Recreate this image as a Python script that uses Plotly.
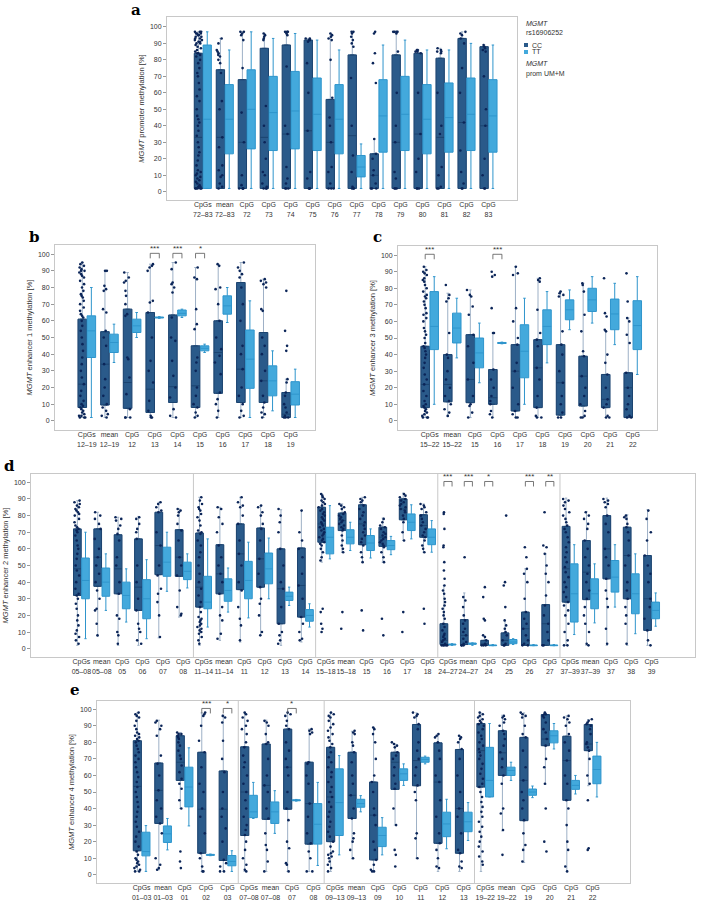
import plotly.graph_objects as go

W, H = 701, 906

CC_FILL = "#2a5a8a"
CC_LINE = "#1c4470"
CC_WHISK = "#9db0c6"
TT_FILL = "#43a9dc"
TT_LINE = "#2f95cc"
DOT = "#0b2558"
FONT = "Liberation Sans"
FS = 7

# ---------------- panel a : promoter CpGs 72-83 ----------------
a_cats = ["CpGs<br>72–83", "mean<br>72–83", "CpG<br>72", "CpG<br>73", "CpG<br>74", "CpG<br>75",
          "CpG<br>76", "CpG<br>77", "CpG<br>78", "CpG<br>79", "CpG<br>80", "CpG<br>81",
          "CpG<br>82", "CpG<br>83"]
a_cc_lo = [2, 2, 2, 2, 2, 2, 2, 2, 2, 2, 2, 2, 2, 2]
a_cc_q1 = [2, 2, 2, 2, 2, 2, 2, 2, 2, 2, 2, 2, 2, 2]
a_cc_med = [33, 33, 30, 33, 35, 37, 30, 34, 10, 30, 35, 33, 42, 40]
a_cc_q3 = [84, 74, 68, 87, 89, 92, 56, 83, 23, 83, 84, 81, 93, 88]
a_cc_hi = [97, 93, 97, 96, 97, 93, 96, 97, 32, 97, 86, 87, 97, 89]
a_tt_lo = [2, 2, 2, 2, 2, 2, 2, 2, 2, 2, 2, 2, 2, 2]
a_tt_q1 = [2, 23, 26, 25, 26, 25, 23, 9, 24, 25, 23, 24, 25, 24]
a_tt_med = [44, 44, 50, 48, 49, 47, 44, 15, 46, 47, 44, 45, 47, 46]
a_tt_q3 = [89, 65, 74, 70, 73, 69, 65, 22, 68, 70, 65, 66, 69, 68]
a_tt_hi = [97, 86, 97, 93, 96, 92, 86, 29, 89, 92, 86, 86, 90, 89]
a_cc_pts = [
    [97, 97, 97, 96, 96, 96, 95, 95, 94, 94, 93, 93, 92, 92, 91, 91, 90, 90, 89, 88, 87, 86, 85, 84,
     84, 83, 82, 80, 78, 75, 72, 70, 66, 62, 58, 55, 50, 46, 44, 42, 40, 37, 34, 30, 27, 24, 22, 19,
     16, 13, 12, 11, 10, 9, 8, 7, 6, 5, 4, 3, 3, 2, 2, 2, 2, 2],
    [93, 90, 86, 85, 84, 83, 82, 80, 78, 72, 55, 50, 33, 27, 16, 13, 10, 9, 5, 3, 2],
    [97, 97, 96, 95, 92, 75, 48, 30, 10, 4, 2, 2, 2, 2],
    [96, 95, 94, 93, 92, 52, 40, 30, 20, 12, 10, 5, 3, 2, 2, 2],
    [97, 97, 97, 96, 95, 76, 40, 35, 15, 8, 5, 2, 2, 2],
    [93, 93, 92, 92, 91, 78, 60, 37, 12, 8, 2, 2, 2],
    [96, 95, 94, 93, 92, 80, 57, 45, 40, 30, 15, 12, 5, 2, 2, 2],
    [97, 97, 96, 94, 92, 90, 88, 69, 40, 22, 12, 3, 2, 2, 2],
    [97, 96, 84, 78, 66, 32, 23, 20, 13, 10, 5, 2, 2, 2],
    [97, 97, 97, 97, 96, 85, 60, 40, 30, 12, 8, 2, 2, 2],
    [86, 86, 85, 85, 84, 60, 35, 20, 12, 2, 2, 2],
    [87, 86, 85, 85, 84, 60, 40, 35, 15, 10, 3, 2, 2],
    [97, 96, 95, 93, 90, 75, 60, 42, 25, 12, 5, 2, 2],
    [89, 88, 87, 86, 85, 70, 50, 40, 20, 10, 2, 2],
]
a_sig = []

# ---------------- panel b : enhancer 1 ----------------
b_cats = ["CpGs<br>12–19", "mean<br>12–19", "CpG<br>12", "CpG<br>13", "CpG<br>14", "CpG<br>15",
          "CpG<br>16", "CpG<br>17", "CpG<br>18", "CpG<br>19"]
b_cc_lo = [2, 2, 2, 2, 2, 2, 2, 2, 2, 2]
b_cc_q1 = [8, 9.5, 7.5, 5, 11, 8, 16.5, 11, 11, 2]
b_cc_med = [22, 34, 23, 19, 20.5, 21, 41, 31, 24, 4]
b_cc_q3 = [61, 53.5, 67, 65, 63.5, 45, 60, 83, 53, 17]
b_cc_hi = [95, 90, 89, 94, 95, 92, 94, 95, 85, 25]
b_tt_lo = [2, 35, 50, 61.5, 62, 41, 59, 2, 6, 2]
b_tt_q1 = [38, 41, 53, 61.7, 63, 42, 64, 19.5, 15, 9.5]
b_tt_med = [54, 47, 57, 62, 64.5, 43.5, 69, 37, 24, 16]
b_tt_q3 = [63, 52, 61, 62.3, 66.5, 45, 75, 54.5, 33, 23.5]
b_tt_hi = [80, 58, 65, 62.5, 67, 46, 80, 72, 42, 31]
b_cc_pts = [
    [95, 94, 93, 92, 91, 90, 90, 89, 88, 87, 86, 84, 82, 80, 78, 76, 75, 74, 72, 70, 68, 66, 64, 63,
     62, 60, 57, 54, 50, 46, 42, 38, 34, 30, 26, 22, 18, 15, 12, 10, 9, 8, 7, 6, 5, 4, 3, 3, 2, 2, 2],
    [90, 90, 81, 79, 78, 67, 65, 54, 50, 45, 34, 25, 20, 15, 10, 8, 6, 4, 3, 2],
    [89, 86, 84, 83, 78, 75, 70, 64, 63, 38, 37, 26, 16, 7, 2, 2, 2],
    [94, 93, 92, 90, 72, 71, 65, 50, 36, 30, 23, 12, 6, 3, 2, 2],
    [95, 91, 83, 82, 80, 77, 62, 50, 48, 36, 27, 20, 14, 7, 3, 2],
    [92, 86, 85, 67, 58, 55, 38, 35, 30, 20, 15, 10, 8, 5, 3, 2],
    [94, 93, 80, 79, 70, 60, 50, 43, 39, 35, 28, 17, 13, 10, 6, 2],
    [95, 92, 90, 88, 86, 80, 70, 60, 45, 40, 31, 20, 15, 10, 6, 3, 2],
    [85, 84, 83, 82, 80, 67, 66, 50, 45, 40, 30, 24, 15, 11, 8, 5, 4, 2],
    [78, 54, 45, 42, 25, 23, 17, 15, 10, 8, 5, 3, 2, 2, 2],
]
b_sig = [(3, "***"), (4, "***"), (5, "*")]

# ---------------- panel c : enhancer 3 ----------------
c_cats = ["CpGs<br>15–22", "mean<br>15–22", "CpG<br>15", "CpG<br>16", "CpG<br>17", "CpG<br>18",
          "CpG<br>19", "CpG<br>20", "CpG<br>21", "CpG<br>22"]
c_cc_lo = [2, 3, 2, 2, 2, 2, 2, 2, 2, 2]
c_cc_q1 = [8, 11.5, 11, 10, 6, 8, 3.5, 9, 8, 2]
c_cc_med = [22, 22, 25, 14, 30, 32, 23, 27, 13, 20]
c_cc_q3 = [45, 40, 52, 31, 46, 49, 46, 39, 28, 29]
c_cc_hi = [93, 77, 79, 53, 93, 86, 78, 83, 54, 62]
c_tt_lo = [10, 38, 23, 46.5, 10, 35, 55, 59, 46, 28]
c_tt_q1 = [43, 47, 32, 46.7, 26, 46, 61, 66, 55, 43]
c_tt_med = [57, 56, 41, 47, 42, 57, 67, 73, 64.5, 57.5]
c_tt_q3 = [78, 65, 50, 47.3, 58, 67, 73, 80, 73.5, 72.5]
c_tt_hi = [87, 74, 59, 47.5, 74, 78, 79, 87, 83, 87]
c_cc_pts = [
    [93, 91, 90, 89, 88, 86, 85, 84, 82, 80, 78, 76, 75, 74, 72, 70, 68, 65, 64, 62, 60, 56, 54, 52,
     50, 47, 45, 44, 42, 40, 38, 35, 32, 28, 25, 22, 18, 15, 12, 10, 9, 8, 7, 6, 5, 4, 3, 2, 2, 2],
    [82, 76, 74, 72, 53, 40, 38, 30, 25, 20, 15, 12, 10, 7, 5, 3],
    [79, 76, 75, 69, 64, 52, 45, 35, 25, 15, 10, 9, 5, 2],
    [90, 88, 87, 68, 53, 53, 31, 25, 20, 15, 12, 10, 6, 4, 2],
    [93, 89, 88, 68, 60, 50, 46, 35, 30, 20, 10, 6, 4, 2, 2],
    [86, 85, 84, 67, 53, 49, 45, 32, 25, 15, 8, 3, 2, 2],
    [78, 77, 76, 75, 54, 46, 40, 30, 23, 15, 10, 5, 2, 2],
    [83, 82, 78, 64, 54, 42, 39, 27, 20, 15, 10, 6, 3, 2, 2],
    [86, 65, 63, 55, 54, 40, 35, 28, 20, 13, 10, 8, 3, 2, 2],
    [89, 72, 62, 60, 52, 47, 29, 20, 15, 10, 7, 3, 2, 2],
]
c_sig = [(0, "***"), (3, "***")]

# ---------------- panel d : enhancer 2 ----------------
d_cats = ["CpGs<br>05–08", "mean<br>05–08", "CpG<br>05", "CpG<br>06", "CpG<br>07", "CpG<br>08",
          "CpGs<br>11–14", "mean<br>11–14", "CpG<br>11", "CpG<br>12", "CpG<br>13", "CpG<br>14",
          "CpGs<br>15–18", "mean<br>15–18", "CpG<br>15", "CpG<br>16", "CpG<br>17", "CpG<br>18",
          "CpGs<br>24–27", "mean<br>24–27", "CpG<br>24", "CpG<br>25", "CpG<br>26", "CpG<br>27",
          "CpGs<br>37–39", "mean<br>37–39", "CpG<br>37", "CpG<br>38", "CpG<br>39"]
d_groups = [6, 6, 6, 6, 5]
d_cc_lo = [2, 7.5, 2, 2, 6.5, 19, 2, 5, 4, 8, 2, 4, 52, 58, 52, 52, 65, 58,
           2, 2, 2, 2, 2, 2, 2, 2, 2, 2, 2]
d_cc_q1 = [32, 37.5, 33, 23, 44.5, 43.5, 25, 33, 35.5, 37, 15, 19, 64, 71, 62.5, 61.5, 77.5, 67,
           2.5, 2.5, 2, 2, 2, 2, 28, 29.5, 42, 30, 11]
d_cc_med = [48, 55, 48, 37, 62, 55, 37, 45, 57, 54, 36, 38, 75, 77, 75, 67, 84, 74,
            5, 8, 3, 5, 12, 15, 48, 46, 60, 56, 30]
d_cc_q3 = [72, 72, 68.5, 66, 82, 71.5, 69.5, 62.5, 75, 72.5, 60, 60.5, 85, 81.5, 86.5, 73, 90, 80.5,
           15, 17.5, 5, 9.5, 22, 26.5, 73.5, 65, 80, 73, 56]
d_cc_hi = [89, 82, 79, 79.5, 88, 84, 91, 85, 91, 86, 83.5, 83, 93, 87, 91, 78.5, 93.5, 87,
           38, 33.5, 7.5, 17, 48, 57, 90.5, 82.5, 90.5, 80.5, 83.5]
d_tt_lo = [6, 23, 16, 6, 34.5, 36.5, 13, 22, 18.5, 30, 26, 13, 54, 59, 54.5, 56.5, 66, 58,
           2, 2, 2, 2.5, 2, 2, 8.5, 15.5, 25, 9, 13.5]
d_tt_q1 = [30, 31.5, 24, 18, 43.5, 41.5, 24, 28.5, 30, 39, 29, 16.5, 57, 63, 59, 59.5, 71, 62.5,
           2.2, 2.6, 1.8, 3, 1.8, 1.8, 16, 24, 34, 21, 18]
d_tt_med = [41, 40, 32, 30, 52, 46.5, 28, 35, 41, 48, 31.5, 20, 67, 67, 63.5, 62, 76, 67,
            2.5, 3, 2, 4, 2, 2, 33, 33, 43, 33, 23]
d_tt_q3 = [54.5, 48.5, 40, 41.5, 61, 52, 43.5, 42, 52.5, 57.5, 34, 23.5, 73, 71.5, 68, 65, 81, 72,
           2.8, 3.4, 2.2, 5.5, 2.2, 2.2, 51, 42, 53, 45, 28]
d_tt_hi = [70, 57, 48, 53.5, 70, 57, 66, 48.5, 64, 66.5, 37, 27, 86, 76, 72, 67.5, 86.5, 77,
           3, 3.5, 2.5, 6, 2.5, 2.5, 62.5, 51, 62.5, 57, 33.5]
d_cc_pts = [
    [89, 88, 87, 86, 85, 84, 83, 82, 81, 80, 78, 76, 74, 73, 72, 71, 70, 68, 65, 62, 60, 57, 54, 50,
     47, 44, 40, 36, 33, 32, 30, 27, 24, 20, 17, 14, 11, 9, 7, 5, 3],
    [82, 80, 78, 75, 72, 66, 60, 55, 50, 45, 40, 35, 30, 24, 23, 15, 8],
    [79, 78, 77, 74, 72, 69, 65, 55, 50, 40, 33, 20, 18, 10, 8, 3],
    [79, 78, 75, 72, 70, 66, 50, 40, 30, 23, 15, 12, 10, 5, 3],
    [88, 87, 85, 83, 82, 70, 62, 50, 44, 36, 33, 28, 20, 7],
    [84, 83, 82, 80, 75, 71, 65, 55, 50, 44, 35, 25, 21, 20],
    [91, 89, 87, 85, 84, 83, 81, 79, 77, 74, 71, 70, 69, 65, 62, 58, 55, 50, 45, 40, 36, 32, 28, 25,
     22, 19, 18, 17, 16, 15, 14, 13, 12, 11, 10, 9, 7, 5, 3],
    [85, 84, 79, 75, 70, 62, 55, 50, 45, 40, 33, 25, 20, 17, 9, 6],
    [91, 88, 86, 85, 80, 75, 65, 57, 50, 40, 35, 25, 18, 14, 5],
    [86, 85, 82, 80, 75, 72, 65, 54, 45, 37, 30, 27, 20, 10, 8],
    [84, 80, 76, 70, 60, 50, 40, 36, 25, 15, 10, 8, 5, 3],
    [83, 70, 65, 60, 55, 45, 38, 30, 19, 15, 10, 6, 5],
    [93, 92, 91, 90, 89, 88, 87, 86, 85, 84, 83, 82, 81, 80, 79, 78, 77, 76, 75, 74, 73, 72, 71, 70,
     69, 68, 67, 66, 65, 64, 63, 62, 60, 58, 55, 53, 24, 22, 15, 12, 10],
    [87, 86, 85, 84, 82, 81, 80, 79, 78, 77, 76, 75, 74, 73, 72, 71, 68, 65, 62, 60, 58, 22, 12],
    [91, 90, 89, 88, 86, 84, 82, 80, 78, 76, 74, 72, 70, 68, 66, 64, 62, 58, 55, 52, 23, 11],
    [78, 76, 74, 73, 72, 70, 69, 68, 67, 66, 65, 64, 63, 62, 61, 58, 55, 52, 18, 8],
    [93, 92, 91, 90, 89, 88, 87, 86, 85, 84, 83, 82, 80, 78, 76, 70, 65, 22, 10],
    [87, 86, 85, 84, 82, 80, 78, 76, 74, 72, 70, 68, 67, 65, 62, 60, 58, 24, 15],
    [82, 81, 72, 62, 61, 52, 47, 42, 38, 35, 33, 30, 28, 26, 24, 22, 20, 18, 15, 13, 11, 9, 8, 7, 6,
     5, 4, 3, 2, 2, 2, 2, 2],
    [55, 31, 29, 25, 20, 17, 15, 12, 10, 8, 6, 4, 3, 2, 2, 2],
    [37, 31, 18, 17, 8, 7, 5, 3, 2, 2, 2],
    [80, 40, 38, 25, 17, 14, 12, 10, 8, 5, 3, 2, 2],
    [61, 55, 48, 45, 40, 30, 22, 18, 15, 12, 8, 5, 3, 2, 2],
    [82, 62, 61, 57, 50, 45, 40, 32, 26, 20, 15, 10, 5, 2, 2],
    [90, 89, 88, 86, 84, 82, 80, 78, 76, 74, 72, 70, 67, 64, 61, 58, 55, 52, 49, 46, 43, 40, 37, 34,
     31, 28, 26, 23, 20, 15, 10, 5, 2, 2],
    [82, 80, 78, 75, 72, 65, 60, 55, 50, 45, 40, 35, 30, 25, 20, 15, 10, 3, 2],
    [90, 89, 88, 87, 85, 80, 75, 70, 60, 55, 50, 42, 35, 30, 25, 12, 3],
    [80, 79, 78, 75, 73, 70, 65, 56, 50, 40, 35, 30, 25, 20, 15, 3],
    [83, 78, 70, 65, 56, 50, 45, 40, 30, 25, 18, 11, 5, 2],
]
d_sig = [(18, "***"), (19, "***"), (20, "*"), (22, "***"), (23, "**")]

# ---------------- panel e : enhancer 4 ----------------
e_cats = ["CpGs<br>01–03", "mean<br>01–03", "CpG<br>01", "CpG<br>02", "CpG<br>03",
          "CpGs<br>07–08", "mean<br>07–08", "CpG<br>07", "CpG<br>08",
          "CpGs<br>09–13", "mean<br>09–13", "CpG<br>09", "CpG<br>10", "CpG<br>11", "CpG<br>12", "CpG<br>13",
          "CpGs<br>19–22", "mean<br>19–22", "CpG<br>19", "CpG<br>20", "CpG<br>21", "CpG<br>22"]
e_groups = [5, 4, 7, 6]
e_cc_lo = [2, 3, 40, 2, 2, 2, 2, 2, 2, 2, 9.6, 2, 30, 10, 2, 2, 2, 26.5, 7.4, 54.8, 2, 53.8]
e_cc_q1 = [14.5, 31, 57, 13, 8.6, 23.7, 33.5, 39.6, 18.5, 20, 34, 9, 51.6, 53.8, 19, 13, 53, 60, 32.7, 78, 45, 75]
e_cc_med = [53.4, 51, 68, 39.6, 39.6, 50, 54, 65, 43, 47, 48, 36, 68, 69, 56, 40, 75, 73.7, 57, 82, 69, 79]
e_cc_q3 = [81, 67.5, 84, 74, 62.7, 77.3, 79, 88, 68, 77, 74, 56, 74, 90.8, 79.7, 75.7, 91.4, 87, 83, 96.8, 83.7, 90.8]
e_cc_hi = [97.8, 93.4, 86, 97.8, 96.4, 97.8, 93.4, 97.8, 88, 97.8, 86.7, 89, 79, 97.8, 85, 84, 97.8, 96.4, 97.8, 97.8, 96, 93.8]
e_tt_lo = [2, 15, 29.5, 11.5, 2, 34, 25, 44.5, 5.6, 12, 38, 12, 54, 67, 15.7, 20.7, 47, 57, 46.6, 76, 48.8, 47]
e_tt_q1 = [11.4, 19.5, 41, 11.7, 5.4, 34.5, 31, 44.7, 18.5, 23.7, 40.8, 17, 57, 68, 23, 26, 47, 60, 48, 79.7, 51.6, 55]
e_tt_med = [14, 24.7, 53, 12, 8, 38, 38, 45, 30.5, 43.6, 43, 23.7, 61, 69.7, 30.7, 32, 57, 63, 50, 84, 54, 63.6]
e_tt_q3 = [25.7, 29.5, 65, 12.3, 11.6, 48, 44, 45.3, 43, 64, 45.6, 28.7, 64, 71, 37.8, 37.8, 77, 65, 51.8, 87, 57, 71.7]
e_tt_hi = [29.7, 34, 76.7, 12.5, 14.5, 55.8, 50.8, 45.5, 55.8, 72, 47.8, 34.5, 67, 71.7, 45.6, 43.6, 91.4, 68, 53.6, 91.4, 60, 80]
e_cc_pts = [
    [98, 97, 96, 95, 93, 90, 88, 86, 85, 84, 83, 82, 81, 80, 78, 76, 74, 72, 70, 68, 65, 62, 59, 56,
     53, 50, 47, 44, 41, 38, 35, 32, 29, 26, 23, 20, 17, 14, 12, 10, 9, 8, 7, 6, 5, 4, 3, 2, 2],
    [93, 92, 90, 88, 84, 72, 67, 60, 51, 45, 40, 35, 31, 25, 10, 6, 4, 3],
    [86, 85, 85, 84, 83, 82, 80, 78, 75, 72, 70, 66, 62, 58, 55, 52, 45, 40, 14, 8, 4],
    [98, 97, 96, 90, 81, 74, 65, 55, 50, 40, 35, 25, 13, 10, 5, 2, 2],
    [96, 95, 92, 81, 70, 62, 50, 40, 35, 28, 20, 9, 7, 5, 2, 2],
    [98, 97, 95, 93, 90, 88, 85, 80, 77, 72, 68, 65, 60, 55, 50, 45, 40, 35, 30, 27, 24, 20, 15, 10,
     6, 3, 2],
    [93, 92, 90, 85, 80, 79, 70, 60, 54, 50, 40, 34, 25, 18, 15, 8, 2],
    [98, 97, 96, 93, 90, 88, 80, 75, 70, 65, 60, 50, 40, 33, 20, 16, 7, 6, 2],
    [88, 87, 86, 85, 68, 67, 60, 55, 43, 35, 25, 19, 14, 10, 2, 2],
    [98, 97, 96, 95, 93, 91, 89, 87, 85, 83, 81, 79, 77, 74, 71, 68, 65, 62, 59, 56, 53, 50, 47, 44,
     41, 38, 35, 32, 29, 26, 23, 20, 17, 14, 13, 12, 11, 10, 8, 6, 4, 2],
    [87, 86, 85, 80, 78, 74, 68, 60, 55, 48, 40, 34, 25, 22, 20, 15, 10],
    [89, 88, 85, 80, 70, 60, 56, 50, 40, 36, 30, 20, 15, 9, 6, 3, 2, 2],
    [80, 79, 78, 77, 74, 72, 70, 65, 60, 55, 52, 40, 30, 15, 12, 5],
    [98, 97, 96, 95, 91, 88, 80, 75, 70, 65, 60, 54, 50, 45, 25, 22, 10],
    [85, 84, 83, 80, 75, 70, 60, 56, 45, 35, 25, 19, 15, 10, 5, 4],
    [84, 83, 82, 80, 76, 70, 60, 50, 40, 35, 25, 15, 13, 8, 5, 4],
    [98, 97, 96, 95, 94, 93, 92, 91, 90, 88, 86, 84, 82, 80, 78, 76, 74, 72, 70, 67, 64, 61, 58, 55,
     53, 50, 47, 44, 41, 38, 35, 32, 29, 26, 23, 20, 17, 14, 11, 8, 6],
    [96, 95, 94, 92, 90, 87, 85, 82, 78, 74, 70, 65, 60, 55, 40, 37, 27, 12],
    [98, 97, 96, 95, 90, 85, 83, 75, 65, 57, 50, 45, 40, 33, 25, 18, 15, 8],
    [98, 97, 97, 96, 95, 92, 88, 86, 82, 78, 70, 65, 55, 40, 20, 14],
    [96, 95, 94, 92, 90, 85, 80, 75, 69, 60, 55, 45, 40, 30, 20, 15, 5, 2],
    [94, 93, 92, 91, 90, 88, 85, 80, 79, 77, 75, 70, 60, 55, 45, 16, 15],
]
e_sig = [(3, "***"), (4, "*"), (7, "*")]

# legend entries (genotype groups)
legend_names = ["CC", "TT"]
legend_colors = [CC_FILL, TT_FILL]

# pixel boxes of the five plot areas (left, top, right, bottom)
panels = [
    dict(key="a", cats=a_cats, cc=(a_cc_lo, a_cc_q1, a_cc_med, a_cc_q3, a_cc_hi),
         tt=(a_tt_lo, a_tt_q1, a_tt_med, a_tt_q3, a_tt_hi), pts=a_cc_pts, sig=a_sig, groups=None,
         box=(167, 17, 517, 200), yr=(-5, 106), label_xy=(136, 10),
         title="<i>MGMT</i> promoter methylation [%]"),
    dict(key="b", cats=b_cats, cc=(b_cc_lo, b_cc_q1, b_cc_med, b_cc_q3, b_cc_hi),
         tt=(b_tt_lo, b_tt_q1, b_tt_med, b_tt_q3, b_tt_hi), pts=b_cc_pts, sig=b_sig, groups=None,
         box=(55, 245, 315, 430), yr=(-5.5, 105.5), label_xy=(34, 237),
         title="<i>MGMT</i> enhancer 1 methylation [%]"),
    dict(key="c", cats=c_cats, cc=(c_cc_lo, c_cc_q1, c_cc_med, c_cc_q3, c_cc_hi),
         tt=(c_tt_lo, c_tt_q1, c_tt_med, c_tt_q3, c_tt_hi), pts=c_cc_pts, sig=c_sig, groups=None,
         box=(398, 246, 657, 430), yr=(-5.5, 105.5), label_xy=(377, 237),
         title="<i>MGMT</i> enhancer 3 methylation [%]"),
    dict(key="d", cats=d_cats, cc=(d_cc_lo, d_cc_q1, d_cc_med, d_cc_q3, d_cc_hi),
         tt=(d_tt_lo, d_tt_q1, d_tt_med, d_tt_q3, d_tt_hi), pts=d_cc_pts, sig=d_sig, groups=d_groups,
         box=(31, 474, 695, 657), yr=(-5, 105), label_xy=(9, 466),
         title="<i>MGMT</i> enhancer 2 methylation [%]"),
    dict(key="e", cats=e_cats, cc=(e_cc_lo, e_cc_q1, e_cc_med, e_cc_q3, e_cc_hi),
         tt=(e_tt_lo, e_tt_q1, e_tt_med, e_tt_q3, e_tt_hi), pts=e_cc_pts, sig=e_sig, groups=e_groups,
         box=(97, 701, 630, 883), yr=(-5, 105), label_xy=(75, 690),
         title="<i>MGMT</i> enhancer 4 methylation [%]"),
]

fig = go.Figure()
layout = {}
shapes = []
annotations = []

for n, p in enumerate(panels, start=1):
    xa = "x" if n == 1 else "x%d" % n
    ya = "y" if n == 1 else "y%d" % n
    lo, q1, med, q3, hi = p["cc"]
    # CC whiskers (light) underneath
    fig.add_trace(go.Box(x=p["cats"], q1=q1, median=med, q3=q3, lowerfence=lo, upperfence=hi,
                         xaxis=xa, yaxis=ya, offsetgroup="cc", whiskerwidth=0.3,
                         line=dict(color=CC_WHISK, width=1), fillcolor="rgba(0,0,0,0)",
                         showlegend=False, hoverinfo="skip"))
    # CC box
    fig.add_trace(go.Box(x=p["cats"], q1=q1, median=med, q3=q3, lowerfence=q1, upperfence=q3,
                         xaxis=xa, yaxis=ya, offsetgroup="cc", name="CC", showlegend=False,
                         line=dict(color=CC_LINE, width=1), fillcolor=CC_FILL))
    lo, q1, med, q3, hi = p["tt"]
    fig.add_trace(go.Box(x=p["cats"], q1=q1, median=med, q3=q3, lowerfence=lo, upperfence=hi,
                         xaxis=xa, yaxis=ya, offsetgroup="tt", name="TT", showlegend=False,
                         whiskerwidth=0.3, line=dict(color=TT_LINE, width=1), fillcolor=TT_FILL))
    # jittered CC values
    px_, py_ = [], []
    for cat, vals in zip(p["cats"], p["pts"]):
        px_ += [cat] * len(vals)
        py_ += vals
    fig.add_trace(go.Box(x=px_, y=py_, xaxis=xa, yaxis=ya, offsetgroup="cc", boxpoints="all",
                         jitter=0.9, pointpos=0, marker=dict(size=2.6, color=DOT),
                         line=dict(width=0, color="rgba(0,0,0,0)"), fillcolor="rgba(0,0,0,0)",
                         showlegend=False, hoverinfo="y"))

    l, t, r, b = p["box"]
    layout["xaxis" if n == 1 else "xaxis%d" % n] = dict(
        domain=[l / W, r / W], anchor=ya, type="category", categoryorder="array",
        categoryarray=p["cats"], showline=True, mirror=True, linecolor="#c8c8c8", linewidth=1,
        ticks="", tickangle=0, showgrid=False, ticklabelstandoff=-2,
        tickfont=dict(size=FS, color="#333333"), automargin=False)
    layout["yaxis" if n == 1 else "yaxis%d" % n] = dict(
        domain=[1 - b / H, 1 - t / H], anchor=xa, range=list(p["yr"]), tick0=0, dtick=10,
        showline=True, mirror=True, linecolor="#c8c8c8", linewidth=1, ticks="outside", ticklen=3,
        tickcolor="#999999", showgrid=False, zeroline=False, tickfont=dict(size=FS, color="#333333"),
        title=dict(text=p["title"], font=dict(size=7.5, color="#333333"), standoff=4),
        automargin=False)

    # panel letter
    lx, ly = p["label_xy"]
    annotations.append(dict(text="<b>%s</b>" % p["key"], xref="paper", yref="paper", x=lx / W,
                            y=1 - ly / H, xanchor="center", yanchor="middle", showarrow=False,
                            font=dict(family="DejaVu Serif", size=15, color="black")))

    # group separators
    if p["groups"]:
        pos = -0.5
        for g in p["groups"][:-1]:
            pos += g
            shapes.append(dict(type="line", xref=xa, yref=ya + " domain", x0=pos, x1=pos, y0=0, y1=1,
                               line=dict(color="#c8c8c8", width=1)))

    # significance brackets
    for idx, star in p["sig"]:
        x0, x1 = idx - 0.2, idx + 0.2
        shapes.append(dict(type="path", xref=xa, yref=ya,
                           path="M %f,97.5 L %f,100.5 L %f,100.5 L %f,97.5" % (x0, x0, x1, x1),
                           line=dict(color="#555555", width=0.8)))
        annotations.append(dict(text=star, xref=xa, yref=ya, x=idx, y=99.3, xanchor="center",
                                yanchor="bottom", showarrow=False,
                                font=dict(size=8, color="#333333")))

# hand-placed legend at the right of panel a
def lg_text(txt, ypx, xpx=524):
    annotations.append(dict(text=txt, xref="paper", yref="paper", x=xpx / W, y=1 - ypx / H,
                            xanchor="left", yanchor="middle", showarrow=False,
                            font=dict(size=FS, color="#333333")))

lg_text("<i>MGMT</i>", 23)
lg_text("rs16906252", 33)
for i, (name, col) in enumerate(zip(legend_names, legend_colors)):
    yc = 45 + 7 * i
    shapes.append(dict(type="rect", xref="paper", yref="paper", x0=524 / W, x1=528 / W,
                       y0=1 - (yc + 2) / H, y1=1 - (yc - 2) / H, fillcolor=col, line=dict(width=0)))
    lg_text(name, yc, 530)
lg_text("<i>MGMT</i>", 63)
lg_text("prom UM+M", 74)

fig.update_layout(
    width=W, height=H, margin=dict(l=0, r=0, t=0, b=0), template="none",
    paper_bgcolor="white", plot_bgcolor="white",
    font=dict(family=FONT, size=FS, color="#333333"),
    boxmode="group", boxgap=0.2, boxgroupgap=0.06, showlegend=False,
    shapes=shapes, annotations=annotations, **layout)

# no toolbar, and drop the browser's default 8px body margin
fig.write_html("out.html", config={"displayModeBar": False},
               post_script="document.body.style.margin='0';")
